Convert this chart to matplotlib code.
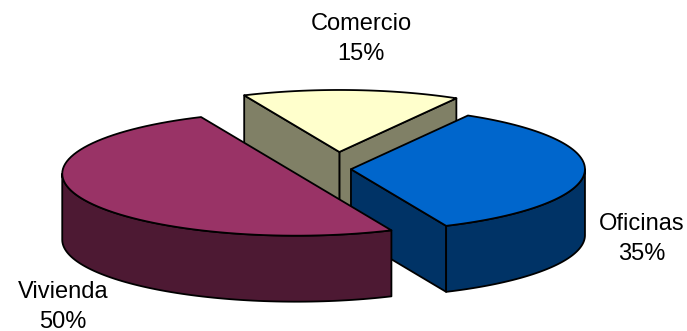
import numpy as np
import matplotlib.pyplot as plt
from matplotlib.patches import Polygon

# data (clockwise from the start angle)
categories = ['Comercio', 'Oficinas', 'Vivienda']
values = [15, 35, 50]

top_colors = {'Comercio': '#FFFFCC', 'Oficinas': '#0066CC', 'Vivienda': '#993366'}
side_colors = {'Comercio': '#808066', 'Oficinas': '#003366', 'Vivienda': '#4D1933'}
explode = {'Comercio': 0.275, 'Oficinas': 0.064, 'Vivienda': 0.186}
label_pos = {'Comercio': (361, 39), 'Oficinas': (642, 239), 'Vivienda': (63, 307)}

# pie geometry in pixels (screen y down)
cx, cy = 336, 169
R, r, h = 234, 62, 66
start = 114.0

fig = plt.figure(figsize=(6.87, 3.31), dpi=100)
ax = fig.add_axes([0, 0, 1, 1])
ax.set_xlim(0, 687)
ax.set_ylim(331, 0)
ax.axis('off')


def pt(x0, y0, t, dz=0):
    a = np.radians(t)
    return x0 + R * np.cos(a), y0 - r * np.sin(a) + dz


def arc(x0, y0, t1, t2, dz=0, n=80):
    ts = np.linspace(t1, t2, n)
    a = np.radians(ts)
    return np.column_stack([x0 + R * np.cos(a), y0 - r * np.sin(a) + dz])


total = float(sum(values))
slices = []
t = start
for cat, v in zip(categories, values):
    span = v / total * 360
    a, b = t - span, t  # ccw range [a, b]
    t = a
    m = np.radians((a + b) / 2)
    e = explode[cat]
    x0 = cx + e * R * np.cos(m)
    y0 = cy - e * r * np.sin(m)
    slices.append((cat, v, a, b, x0, y0))

# back to front
slices.sort(key=lambda s: s[5])

kw = dict(edgecolor='black', linewidth=1.3, joinstyle='round')
for cat, v, a, b, x0, y0 in slices:
    side = side_colors[cat]
    # radial faces facing the viewer
    if np.cos(np.radians(a)) > 0:
        ex, ey = pt(x0, y0, a)
        ax.add_patch(Polygon([(x0, y0), (ex, ey), (ex, ey + h), (x0, y0 + h)],
                             facecolor=side, **kw))
    if np.cos(np.radians(b)) < 0:
        ex, ey = pt(x0, y0, b)
        ax.add_patch(Polygon([(x0, y0), (ex, ey), (ex, ey + h), (x0, y0 + h)],
                             facecolor=side, **kw))
    # outer wall, front half only
    for lo, hi in [(-180, 0), (180, 360), (540, 720)]:
        t1, t2 = max(a, lo), min(b, hi)
        if t2 > t1:
            top = arc(x0, y0, t1, t2)
            bot = arc(x0, y0, t2, t1, dz=h)
            ax.add_patch(Polygon(np.vstack([top, bot]), facecolor=side, **kw))
    # top face
    pts = np.vstack([[x0, y0], arc(x0, y0, a, b)])
    ax.add_patch(Polygon(pts, facecolor=top_colors[cat], **kw))

for cat, v in zip(categories, values):
    lx, ly = label_pos[cat]
    ax.text(lx, ly, f'{cat}\n{v / total * 100:.0f}%', ha='center', va='center',
            fontsize=17, family='Liberation Sans', linespacing=1.45, color='black')

fig.savefig('out.png', dpi=100)
